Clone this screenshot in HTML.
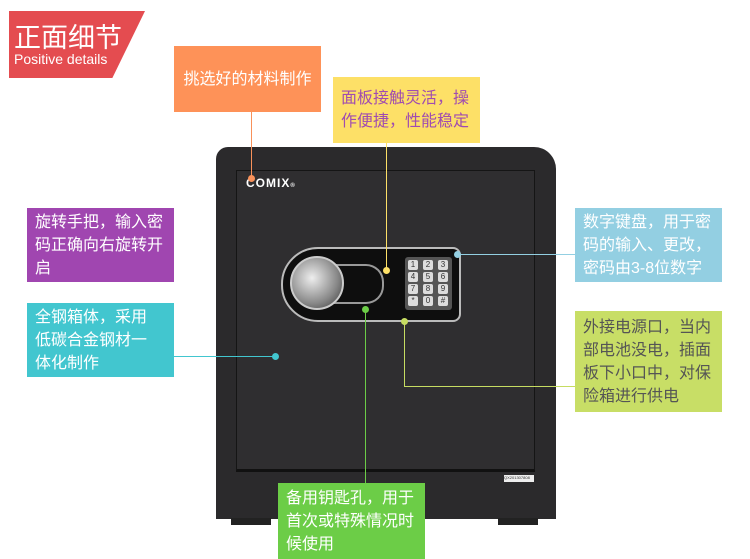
<!DOCTYPE html>
<html><head><meta charset="utf-8"><style>
body{margin:0;width:750px;height:559px;background:#fff;position:relative;overflow:hidden;font-family:"Liberation Sans","Noto Sans CJK SC",sans-serif}
.a{position:absolute}
.box{position:absolute;box-sizing:border-box;color:#fff;font-size:16px;line-height:23px;padding:0 8px;display:flex;align-items:center;white-space:nowrap}
.dot{position:absolute;width:7px;height:7px;border-radius:50%;margin:-3.5px 0 0 -3.5px}
.key{position:absolute;width:10px;height:10px;background:#ddd;border-radius:2px;font-size:8px;line-height:10px;text-align:center;color:#333}
</style></head><body>
<div class="a" style="left:9px;top:11px;width:136px;height:67px;background:#e44c50;clip-path:polygon(0 0,100% 0,76% 100%,0 100%)"></div>
<div class="a" style="left:14px;top:20px;color:#fff;font-size:27px;line-height:32px;font-family:'Noto Sans CJK SC',sans-serif">正面细节</div>
<div class="a" style="left:14px;top:51px;color:#fff;font-size:14px">Positive details</div>

<div class="a" style="left:216px;top:147px;width:340px;height:372px;background:#2b2a2c;border-radius:12px 22px 0 0"></div>
<div class="a" style="left:231px;top:518px;width:40px;height:7px;background:#222"></div>
<div class="a" style="left:498px;top:518px;width:40px;height:7px;background:#222"></div>
<div class="a" style="left:236px;top:170px;width:297px;height:298px;background:#2f2e30;border:1px solid #151515;border-bottom:3px solid #111"></div>
<div class="a" style="left:246px;top:176px;color:#fff;font-size:12px;font-weight:bold;letter-spacing:1px">COMIX<span style="font-size:6px">®</span></div>
<div class="a" style="left:504px;top:475px;width:30px;height:7px;background:#eee;font-size:4px;color:#333">QX201307808</div>
<div class="a" style="left:281px;top:247px;width:180px;height:75px;background:#0e0e0e;border:2px solid #bbb;border-radius:37px 8px 8px 37px;box-sizing:border-box"></div>
<div class="a" style="left:325px;top:264px;width:57px;height:36px;border:2px solid #999;border-radius:0 18px 18px 0;border-left:none"></div>
<div class="a" style="left:290px;top:256px;width:50px;height:50px;border-radius:50%;background:radial-gradient(circle at 40% 40%,#eee,#888 60%,#333);border:2px solid #ccc"></div>
<div class="a" style="left:405px;top:257px;width:47px;height:53px;background:#555;border-radius:3px"></div>
<div class="key" style="left:408px;top:260px">1</div><div class="key" style="left:423px;top:260px">2</div><div class="key" style="left:438px;top:260px">3</div>
<div class="key" style="left:408px;top:272px">4</div><div class="key" style="left:423px;top:272px">5</div><div class="key" style="left:438px;top:272px">6</div>
<div class="key" style="left:408px;top:284px">7</div><div class="key" style="left:423px;top:284px">8</div><div class="key" style="left:438px;top:284px">9</div>
<div class="key" style="left:408px;top:296px">*</div><div class="key" style="left:423px;top:296px">0</div><div class="key" style="left:438px;top:296px">#</div>

<div class="a" style="left:251px;top:111px;width:1px;height:67px;background:#f8915a"></div>
<div class="dot" style="left:251px;top:178px;background:#f8915a"></div>
<div class="a" style="left:386px;top:143px;width:1px;height:127px;background:#fde067"></div>
<div class="dot" style="left:386px;top:270px;background:#fde067"></div>
<div class="a" style="left:457px;top:254px;width:119px;height:1px;background:#93cfe2"></div>
<div class="dot" style="left:457px;top:254px;background:#93cfe2"></div>
<div class="a" style="left:174px;top:356px;width:101px;height:1px;background:#42c6cf"></div>
<div class="dot" style="left:275px;top:356px;background:#42c6cf"></div>
<div class="a" style="left:404px;top:321px;width:1px;height:66px;background:#c6dc62"></div>
<div class="a" style="left:404px;top:386px;width:172px;height:1px;background:#c6dc62"></div>
<div class="dot" style="left:404px;top:321px;background:#c6dc62"></div>
<div class="a" style="left:365px;top:309px;width:1px;height:174px;background:#6ccd47"></div>
<div class="dot" style="left:365px;top:309px;background:#6ccd47"></div>

<div class="box" style="left:174px;top:46px;width:147px;height:66px;background:#fe9258;justify-content:center">挑选好的材料制作</div>
<div class="box" style="left:333px;top:77px;width:147px;height:66px;background:#fde067;color:#a04cb0">面板接触灵活，操<br>作便捷，性能稳定</div>
<div class="box" style="left:27px;top:208px;width:147px;height:74px;background:#a046b0">旋转手把，输入密<br>码正确向右旋转开<br>启</div>
<div class="box" style="left:27px;top:303px;width:147px;height:74px;background:#42c6cf">全钢箱体，采用<br>低碳合金钢材一<br>体化制作</div>
<div class="box" style="left:575px;top:208px;width:147px;height:74px;background:#93cfe2">数字键盘，用于密<br>码的输入、更改，<br>密码由3-8位数字</div>
<div class="box" style="left:575px;top:311px;width:147px;height:101px;background:#c8de66;color:#555">外接电源口，当内<br>部电池没电，插面<br>板下小口中，对保<br>险箱进行供电</div>
<div class="box" style="left:278px;top:483px;width:147px;height:76px;background:#6ccd47">备用钥匙孔，用于<br>首次或特殊情况时<br>候使用</div>
</body></html>
